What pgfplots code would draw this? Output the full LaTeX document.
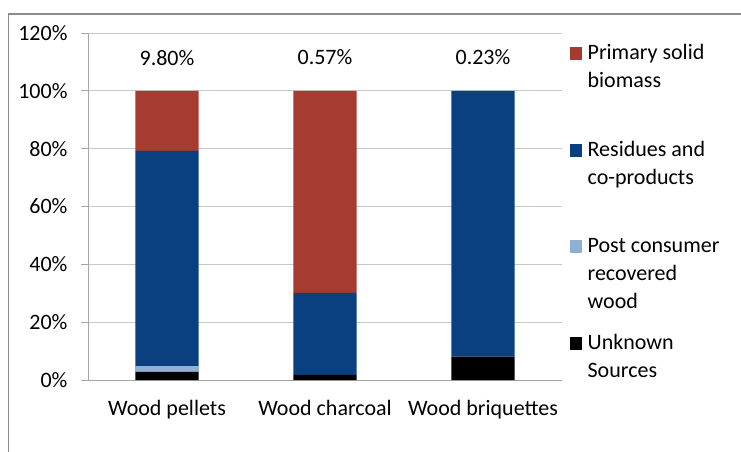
\documentclass[border=0pt]{standalone}
\usepackage{pgfplots}
\pgfplotsset{compat=1.18}
\usepackage{fontspec}
\setmainfont{Carlito}
\definecolor{cRed}{HTML}{A63B30}
\definecolor{cBlue}{HTML}{0B4080}
\definecolor{cLight}{HTML}{8FB0D2}
\definecolor{cGrid}{HTML}{C8C8C8}
\definecolor{cAxis}{HTML}{A6A6A6}
\definecolor{cFrame}{HTML}{8C8C8C}
\begin{document}
\fontsize{22bp}{27bp}\selectfont
\begin{tikzpicture}
\path[use as bounding box] (0,0) rectangle (741bp,452bp);
\draw[cFrame, line width=1.5bp] (8.5bp,-10bp) -- (8.5bp,438bp) -- (760bp,438bp);
\begin{axis}[
  at={(88bp,72bp)}, anchor=south west,
  width=474bp, height=347bp, scale only axis,
  ybar stacked, bar width=0.4,
  xmin=-0.5, xmax=2.5, ymin=0, ymax=120,
  xtick={0,1,2}, xticklabels={Wood pellets, Wood charcoal, Wood briquettes},
  extra x ticks={-0.5,0.5,1.5,2.5}, extra x tick labels={},
  extra x tick style={major tick length=7bp, tick style={cAxis, line width=0.8bp}, grid=none},
  x tick style={draw=none},
  ytick={0,20,...,120},
  yticklabel={\pgfmathprintnumber{\tick}\%},
  /pgf/number format/assume math mode=true,
  ymajorgrids, grid style={cGrid, line width=0.8bp},
  y tick style={cAxis, line width=0.8bp}, major tick length=7bp,
  tick align=outside,
  axis x line*=bottom, axis y line*=left,
  axis line style={cAxis, line width=0.8bp},
  every axis x line/.append style={-}, every axis y line/.append style={-},
  xticklabel style={font=\fontsize{22bp}{27bp}\selectfont, yshift=-6bp},
  yticklabel style={font=\fontsize{22bp}{27bp}\selectfont, xshift=-6bp},
  legend cell align=left,
  reverse legend,
  legend style={draw=none, fill=none, at={(1.0157,0.9735)}, anchor=north west,
    inner sep=0pt, row sep=74.5bp,
    font=\fontsize{22bp}{28bp}\selectfont,
    cells={anchor=base west, inner sep=1bp}},
  legend image code/.code={\fill[#1, draw=none] (0bp,-0.5bp) rectangle (12.5bp,12.5bp);
    \path (16bp,0bp);},
  clip=false,
]
\addplot[fill=black, draw=none] coordinates {(0,2.8) (1,1.8) (2,8.1)};
\addplot[fill=cLight, draw=none] coordinates {(0,2.1) (1,0) (2,0)};
\addplot[fill=cBlue, draw=none] coordinates {(0,74.3) (1,28.3) (2,91.9)};
\addplot[fill=cRed, draw=none] coordinates {(0,20.8) (1,69.9) (2,0)};
\legend{\parbox[t]{145bp}{Unknown\\Sources},
        \parbox[t]{145bp}{Post consumer\\recovered\\wood},
        \parbox[t]{145bp}{Residues and\\co-products},
        \parbox[t]{145bp}{Primary solid\\biomass}}
\node[font=\fontsize{22bp}{27bp}\selectfont] at (axis cs:0,111.5) {9.80\%};
\node[font=\fontsize{22bp}{27bp}\selectfont] at (axis cs:1,111.5) {0.57\%};
\node[font=\fontsize{22bp}{27bp}\selectfont] at (axis cs:2,111.5) {0.23\%};
\end{axis}
\end{tikzpicture}
\end{document}
